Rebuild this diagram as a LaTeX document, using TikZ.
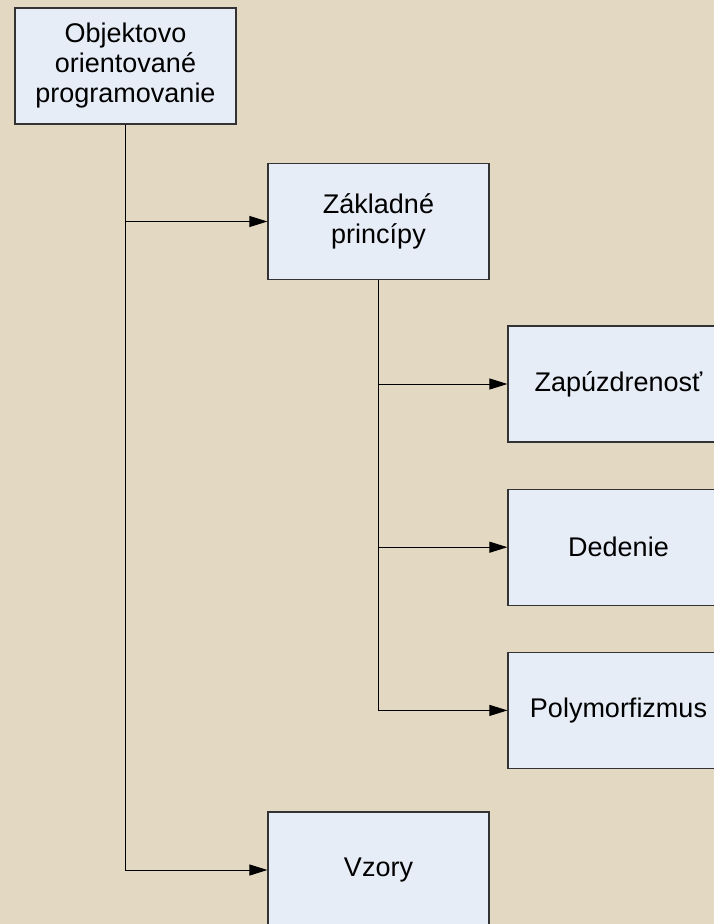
\documentclass[tikz,border=0pt]{standalone}
\usepackage{fontspec}
\setmainfont{Liberation Sans}
\usetikzlibrary{arrows.meta,positioning}
\definecolor{bgbeige}{RGB}{227,217,195}
\definecolor{boxblue}{RGB}{231,237,247}
\definecolor{boxline}{RGB}{51,51,51}

\begin{document}
\begin{tikzpicture}[x=1pt,y=-1pt,box/.style={draw=boxline, fill=boxblue, line width=1.2pt, align=center, minimum width=221pt, minimum height=116pt, inner sep=0pt, font=\fontsize{27}{30}\selectfont},line width=1pt,>={Triangle[length=18pt,width=11pt]}]
		
		\clip (0,0) rectangle (714,924);
		\fill[bgbeige] (0,0) rectangle (714,924);
		
		\node[box] (oop) at (125.5,66) {Objektovo\\orientované\\programovanie};
		\node[box] (zakl) at (378.5,221.5) {Základné\\princípy};
		\node[box] (zap) at (618.5,384) {Zapúzdrenosť};
		\node[box,below=46pt of zap] (ded) {Dedenie};
		\node[box,below=46pt of ded] (poly) {Polymorfizmus};
		\node[box] (vzory) at (378.5,870) {Vzory};
		
		\draw[->] (oop.south) |- (zakl.west);
		\draw[->] (oop.south) |- (vzory.west);
		
		\draw[->] (zakl.south) |- (zap.west);
		\draw[->] (zakl.south) |- (ded.west);
		\draw[->] (zakl.south) |- (poly.west);
		
		\end{tikzpicture}
\end{document}
